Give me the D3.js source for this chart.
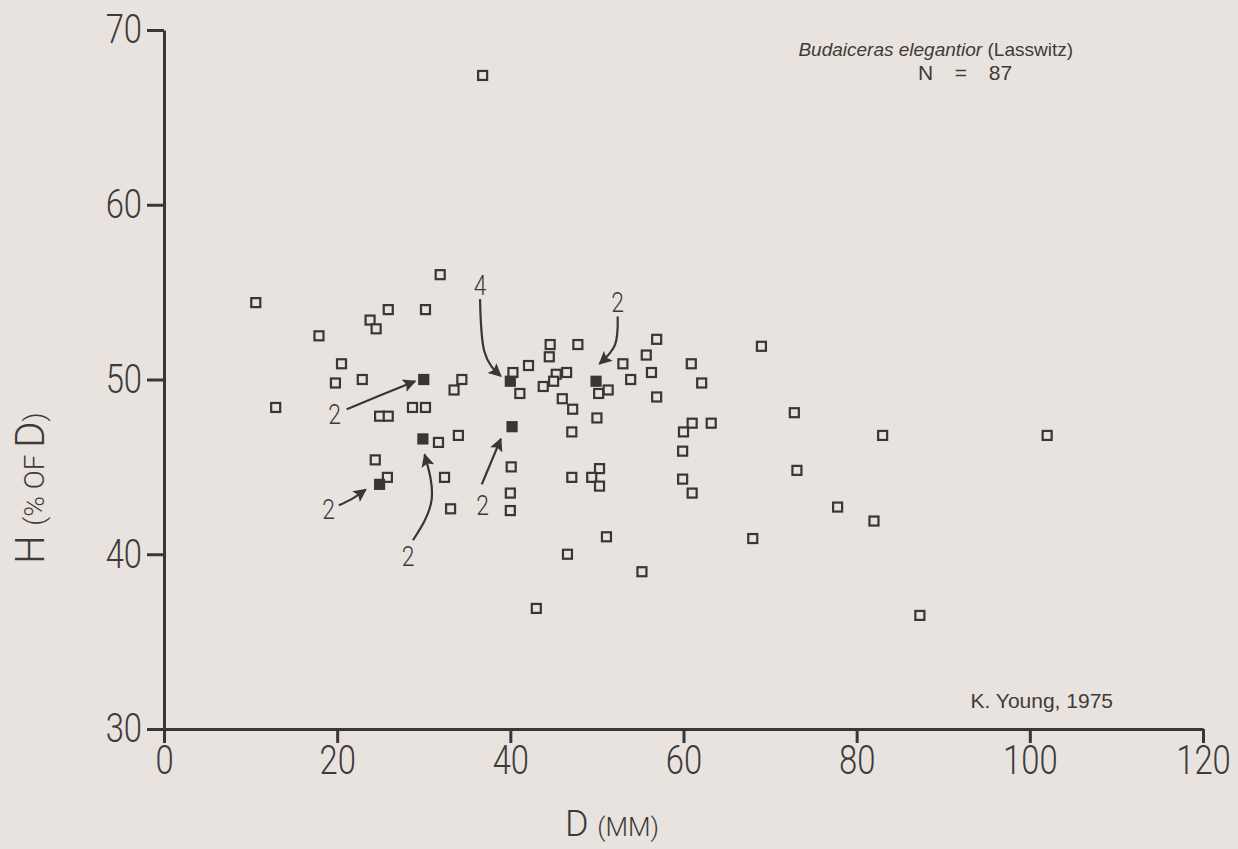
<!DOCTYPE html>
<html>
<head>
<meta charset="utf-8">
<script src="https://cdn.jsdelivr.net/npm/d3@7"></script>
<style>
  body { margin: 0; background: #e8e3df; }
  svg { display: block; }
  .axis text { font-family: Roboto, "DejaVu Sans", sans-serif; font-weight: 300; font-size: 40px; fill: #3f3a37; }
  .axis line, .axis path { stroke: #3a3633; stroke-width: 3; }
  .note { font-family: Roboto, "DejaVu Sans", sans-serif; font-weight: 300; font-size: 28px; fill: #3f3a37; }
  .title { font-family: "Liberation Sans", Arial, sans-serif; fill: #3f3b38; }
</style>
</head>
<body>
<svg id="chart" width="1238" height="849"></svg>
<script>
// open squares, one specimen each (D in mm, H in % of D)
const openD = [36.8, 10.6, 12.9, 17.9, 20.5, 19.8, 22.9, 23.8, 24.5, 25.9,
  31.9, 30.2, 34.4, 33.5, 24.9, 25.9, 28.7, 30.2, 31.7, 34.0,
  40.3, 42.1, 41.1, 44.6, 44.5, 47.8, 46.5, 45.3, 45.0, 43.8,
  46.0, 47.2, 50.0, 47.1, 50.2, 51.3, 53.0, 55.7, 56.9, 56.3,
  53.9, 56.9, 60.9, 62.1, 61.0, 60.0, 63.2, 59.9, 59.9, 61.0,
  32.4, 40.1, 40.0, 40.0, 47.1, 50.3, 49.4, 50.3, 33.1, 69.0,
  72.8, 83.0, 102.0, 73.1, 77.8, 82.0, 68.0, 87.3, 24.4, 25.8,
  46.6, 51.1, 55.2, 43.0];
const openH = [67.4, 54.4, 48.4, 52.5, 50.9, 49.8, 50.0, 53.4, 52.9, 54.0,
  56.0, 54.0, 50.0, 49.4, 47.9, 47.9, 48.4, 48.4, 46.4, 46.8,
  50.4, 50.8, 49.2, 52.0, 51.3, 52.0, 50.4, 50.3, 49.9, 49.6,
  48.9, 48.3, 47.8, 47.0, 49.2, 49.4, 50.9, 51.4, 52.3, 50.4,
  50.0, 49.0, 50.9, 49.8, 47.5, 47.0, 47.5, 45.9, 44.3, 43.5,
  44.4, 45.0, 43.5, 42.5, 44.4, 44.9, 44.4, 43.9, 42.6, 51.9,
  48.1, 46.8, 46.8, 44.8, 42.7, 41.9, 40.9, 36.5, 45.4, 44.4,
  40.0, 41.0, 39.0, 36.9];

// solid squares stand for several specimens
const solidD = [30.0, 29.9, 40.0, 49.9, 40.2, 24.9];
const solidH = [50.0, 46.6, 49.9, 49.9, 47.3, 44.0];
const solidCount = [2, 2, 4, 2, 2, 2];

// count labels and their arrows, in data units
const noteText = ["4", "2", "2", "2", "2", "2"];
const noteAt = [[36.5, 55.4], [52.4, 54.4], [19.7, 48.0], [19.0, 42.6], [28.2, 39.9], [36.8, 42.8]];
const noteArrow = [
  [[36.5, 54.6], [37.0, 51.6], [38.9, 50.2]],
  [[52.4, 53.6], [52.1, 52.0], [50.3, 50.9]],
  [[21.1, 48.3], [25.0, 49.1], [29.0, 49.9]],
  [[20.2, 42.8], [21.8, 43.2], [23.3, 43.7]],
  [[28.75, 40.8], [30.9, 43.1], [30.1, 45.7]],
  [[36.7, 44.0], [37.8, 45.3], [38.9, 46.6]]
];

const xTicks = [0, 20, 40, 60, 80, 100, 120];
const yTicks = [30, 40, 50, 60, 70];

const ink = "#3a3633";
const paper = "#e8e3df";
const squeeze = 0.82; // the figure uses a narrow lettering

const svg = d3.select("#chart");

const x = d3.scaleLinear().domain([0, 120]).range([164, 1203]);
const y = d3.scaleLinear().domain([30, 70]).range([729, 30]);

svg.append("defs").append("marker")
  .attr("id", "head")
  .attr("viewBox", "0 0 10 10")
  .attr("refX", 9).attr("refY", 5)
  .attr("markerWidth", 6.5).attr("markerHeight", 6)
  .attr("markerUnits", "strokeWidth")
  .attr("orient", "auto")
  .append("path")
  .attr("d", "M0,0L10,5L0,10L2,5Z")
  .attr("fill", ink);

const xAxis = svg.append("g")
  .attr("class", "axis")
  .attr("transform", `translate(0,${y(30)})`)
  .call(d3.axisBottom(x).tickValues(xTicks).tickSize(14).tickSizeOuter(0).tickPadding(3));
xAxis.selectAll("text").attr("transform", `scale(${squeeze},1)`);

const yAxis = svg.append("g")
  .attr("class", "axis")
  .attr("transform", `translate(${x(0)},0)`)
  .call(d3.axisLeft(y).tickValues(yTicks).tickSize(17).tickSizeOuter(0));
yAxis.selectAll("text")
  .attr("x", -22 / squeeze)
  .attr("transform", `scale(${squeeze},1)`);

// axis titles (capital letter plus small capitals)
svg.append("text")
  .attr("class", "note")
  .attr("x", 612).attr("y", 836)
  .attr("text-anchor", "middle")
  .style("font-size", "36px")
  .text("D ")
  .append("tspan").style("font-size", "26px").text("(MM)");

svg.append("text")
  .attr("class", "note")
  .attr("transform", "translate(44,488) rotate(-90)")
  .attr("text-anchor", "middle")
  .style("font-size", "40px")
  .text("H ")
  .append("tspan").style("font-size", "28px").text("(% OF ")
  .append("tspan").style("font-size", "40px").text("D")
  .append("tspan").style("font-size", "28px").text(")");

// title block
const title = svg.append("text")
  .attr("class", "title")
  .attr("x", 1073).attr("y", 56)
  .attr("text-anchor", "end")
  .style("font-size", "19px");
title.append("tspan").style("font-style", "italic").text("Budaiceras elegantior");
title.append("tspan").text(" (Lasswitz)");

svg.append("text")
  .attr("class", "title")
  .attr("x", 918).attr("y", 80)
  .style("font-size", "21px")
  .style("word-spacing", "5px")
  .attr("xml:space", "preserve")
  .text("N  =  87");

svg.append("text")
  .attr("class", "title")
  .attr("x", 1113).attr("y", 708)
  .attr("text-anchor", "end")
  .style("font-size", "21px")
  .text("K. Young, 1975");

// arrows and counts
const arrowLine = d3.line().x(d => x(d[0])).y(d => y(d[1])).curve(d3.curveNatural);

svg.append("g").selectAll("path")
  .data(noteArrow)
  .join("path")
  .attr("d", arrowLine)
  .attr("fill", "none")
  .attr("stroke", ink)
  .attr("stroke-width", 2.2)
  .attr("marker-end", "url(#head)");

svg.append("g").selectAll("text")
  .data(noteText)
  .join("text")
  .attr("class", "note")
  .attr("transform", (d, i) => `translate(${x(noteAt[i][0])},${y(noteAt[i][1])}) scale(${squeeze},1)`)
  .attr("text-anchor", "middle")
  .attr("dy", "0.35em")
  .text(d => d);

// specimens
const s = 9;
svg.append("g").selectAll("rect")
  .data(openD)
  .join("rect")
  .attr("x", d => x(d) - s / 2)
  .attr("y", (d, i) => y(openH[i]) - s / 2)
  .attr("width", s).attr("height", s)
  .attr("fill", paper)
  .attr("stroke", ink)
  .attr("stroke-width", 2.2);

svg.append("g").selectAll("rect")
  .data(solidD)
  .join("rect")
  .attr("x", d => x(d) - s / 2)
  .attr("y", (d, i) => y(solidH[i]) - s / 2)
  .attr("width", s).attr("height", s)
  .attr("fill", ink)
  .attr("stroke", ink)
  .attr("stroke-width", 2.2);
</script>
</body>
</html>
